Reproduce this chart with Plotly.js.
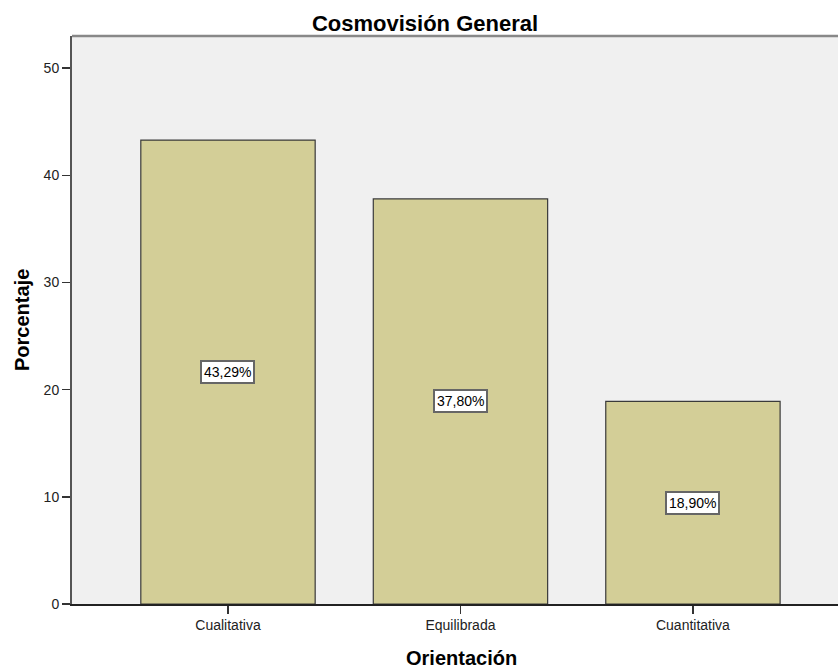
<!DOCTYPE html>
<html>
<head>
<meta charset="utf-8">
<script src="https://cdn.plot.ly/plotly-3.0.1.min.js"></script>
<style>html,body{margin:0;padding:0;background:#fff;}#chart{width:838px;height:668px;}</style>
</head>
<body>
<div id="chart"></div>
<script>
const categories = ["Cualitativa", "Equilibrada", "Cuantitativa"];
const percentages = [43.29, 37.80, 18.90];
const valueLabels = ["43,29%", "37,80%", "18,90%"];
const yTickValues = [0, 10, 20, 30, 40, 50];

const FONT = "Liberation Sans, Arial, sans-serif";

const trace = {
  type: "bar",
  x: categories,
  y: percentages,
  width: 0.75,
  marker: { color: "#d3ce97", line: { color: "#3a3a3a", width: 1.2 } },
  hoverinfo: "skip"
};

const labelAnnotations = categories.map((c, i) => ({
  x: c, y: percentages[i] / 2, xref: "x", yref: "y",
  text: valueLabels[i], showarrow: false,
  font: { family: FONT, size: 14, color: "#000" },
  bgcolor: "#ffffff", bordercolor: "#666666", borderwidth: 2, borderpad: 2,
  xanchor: "center", yanchor: "middle"
}));

const layout = {
  width: 838, height: 668,
  margin: { l: 72, r: 0, t: 36, b: 64 },
  paper_bgcolor: "#ffffff",
  plot_bgcolor: "#f0f0f0",
  showlegend: false,
  font: { family: FONT, size: 14, color: "#222" },
  title: {
    text: "<b>Cosmovisión General</b>",
    font: { family: FONT, size: 22, color: "#000" },
    xref: "container", yref: "container",
    x: 425 / 838, y: 1 - 23 / 668, xanchor: "center", yanchor: "middle"
  },
  xaxis: {
    type: "category",
    range: [-0.671, 2.624],
    showgrid: false, zeroline: false,
    showline: true, linecolor: "#222", linewidth: 1.5,
    ticks: "outside", ticklen: 8, tickcolor: "#333", tickwidth: 1.5,
    tickfont: { family: FONT, size: 14, color: "#222" }
  },
  yaxis: {
    range: [0, 53],
    tickvals: yTickValues,
    showgrid: false, zeroline: false,
    showline: true, linecolor: "#555", linewidth: 2,
    ticks: "outside", ticklen: 8, tickcolor: "#333", tickwidth: 1.5,
    tickfont: { family: FONT, size: 14, color: "#222" }
  },
  shapes: [
    { type: "line", xref: "paper", yref: "paper", x0: 0, x1: 1, y0: 1, y1: 1,
      line: { color: "#888888", width: 2.5 } }
  ],
  annotations: labelAnnotations.concat([
    { text: "<b>Porcentaje</b>", xref: "paper", yref: "paper",
      x: (22 - 72) / 766, y: 0.5, textangle: -90, showarrow: false,
      xanchor: "center", yanchor: "middle",
      font: { family: FONT, size: 20, color: "#000" } },
    { text: "<b>Orientación</b>", xref: "paper", yref: "paper",
      x: (461 - 72) / 766, y: (603.5 - 657) / 567, showarrow: false,
      xanchor: "center", yanchor: "middle",
      font: { family: FONT, size: 20, color: "#000" } }
  ])
};

Plotly.newPlot("chart", [trace], layout, { displayModeBar: false, staticPlot: true });
</script>
</body>
</html>
